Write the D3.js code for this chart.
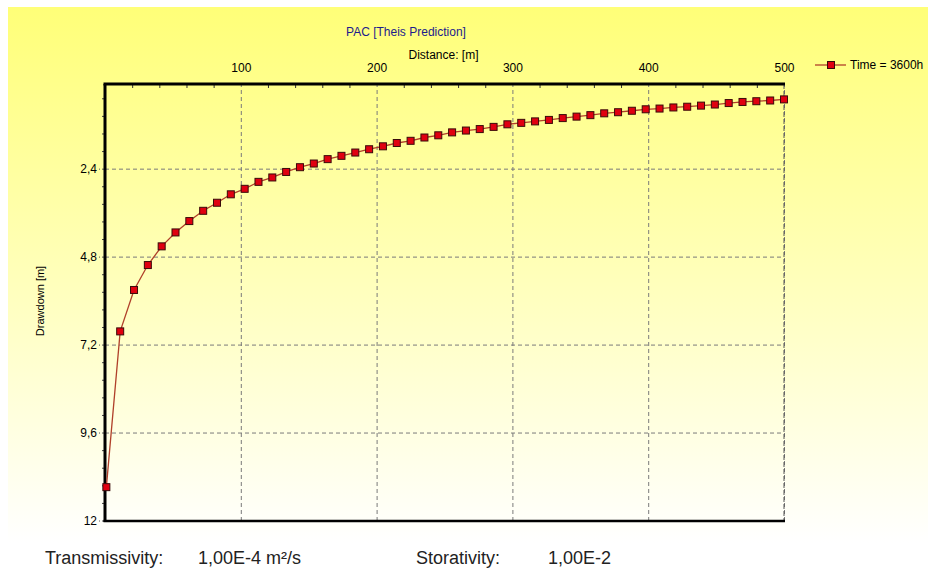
<!DOCTYPE html>
<html>
<head>
<meta charset="utf-8">
<script src="https://cdn.jsdelivr.net/npm/d3@7"></script>
<style>
  html, body { margin: 0; padding: 0; background: #ffffff; }
  svg { display: block; }
  text { font-family: "Liberation Sans", Arial, sans-serif; }
</style>
</head>
<body>
<svg id="chart" width="928" height="571"></svg>
<script>
// ---- data ----
const seriesName = "Time = 3600h";
const distances = [1, 11.18, 21.37, 31.55, 41.73, 51.92, 62.10, 72.29, 82.47, 92.65,
  102.84, 113.02, 123.20, 133.39, 143.57, 153.76, 163.94, 174.12, 184.31, 194.49,
  204.67, 214.86, 225.04, 235.22, 245.41, 255.59, 265.78, 275.96, 286.14, 296.33,
  306.51, 316.69, 326.88, 337.06, 347.24, 357.43, 367.61, 377.80, 387.98, 398.16,
  408.35, 418.53, 428.71, 438.90, 449.08, 459.27, 469.45, 479.63, 489.82, 500];
const drawdown = [11.09, 6.84, 5.71, 5.03, 4.52, 4.14, 3.83, 3.55, 3.33, 3.10,
  2.95, 2.76, 2.64, 2.49, 2.36, 2.26, 2.14, 2.05, 1.96, 1.87,
  1.79, 1.70, 1.64, 1.55, 1.49, 1.41, 1.36, 1.32, 1.26, 1.19,
  1.15, 1.11, 1.07, 1.02, 0.98, 0.94, 0.89, 0.86, 0.82, 0.78,
  0.76, 0.73, 0.71, 0.68, 0.65, 0.61, 0.58, 0.56, 0.54, 0.51];
const xTicks = [100, 200, 300, 400, 500];
const xMinorTicks = d3.range(20, 500, 20).filter(v => v % 100 !== 0);
const yTicks = [2.4, 4.8, 7.2, 9.6, 12];
const yMinorTicks = d3.range(0.48, 12, 0.48).filter(v => Math.abs(v / 2.4 - Math.round(v / 2.4)) > 0.01);
const titleText = "PAC [Theis Prediction]";
const xTitle = "Distance: [m]";
const yTitle = "Drawdown [m]";
const footer = [
  {label: "Transmissivity:", x: 45},
  {label: "1,00E-4 m²/s", x: 198},
  {label: "Storativity:", x: 416},
  {label: "1,00E-2", x: 548}
];

// ---- layout ----
const W = 928, H = 571;
const plot = {left: 105, right: 784, top: 84, bottom: 521};
const svg = d3.select("#chart");

const defs = svg.append("defs");
const bg = defs.append("linearGradient").attr("id", "bg").attr("x1", 0).attr("y1", 0).attr("x2", 0).attr("y2", 1);
bg.append("stop").attr("offset", "0%").attr("stop-color", "#ffff78");
bg.append("stop").attr("offset", "55%").attr("stop-color", "#ffffc4");
bg.append("stop").attr("offset", "95%").attr("stop-color", "#ffffff");

svg.append("rect").attr("x", 8).attr("y", 7).attr("width", W - 8).attr("height", H - 7).attr("fill", "url(#bg)");

const x = d3.scaleLinear().domain([0, 500]).range([plot.left, plot.right]);
const y = d3.scaleLinear().domain([0.09, 12]).range([plot.top, plot.bottom - 0.5]);
const fmtComma = d => String(d).replace(".", ",");

// gridlines
const gx = svg.append("g").attr("transform", `translate(0,${plot.bottom})`)
  .call(d3.axisBottom(x).tickValues(xTicks).tickSize(-(plot.bottom - plot.top)).tickFormat(""));
gx.select(".domain").remove();
gx.selectAll("line").attr("stroke", "#7a7a7a").attr("stroke-dasharray", "4,3");

const gy = svg.append("g").attr("transform", `translate(${plot.left},0)`)
  .call(d3.axisRight(y).tickValues(yTicks).tickSize(plot.right - plot.left).tickFormat(""));
gy.select(".domain").remove();
gy.selectAll("line").attr("stroke", "#7a7a7a").attr("stroke-dasharray", "4,3");

// top axis (labels)
const ax = svg.append("g").attr("transform", `translate(0,${plot.top})`)
  .call(d3.axisTop(x).tickValues(xTicks).tickSize(0).tickPadding(12));
ax.select(".domain").remove();
ax.selectAll("text").attr("font-size", 12).attr("fill", "#000").attr("font-family", "Liberation Sans, Arial, sans-serif");

// top minor ticks (inside)
const axm = svg.append("g").attr("transform", `translate(0,${plot.top})`)
  .call(d3.axisBottom(x).tickValues(xMinorTicks).tickSize(4).tickFormat(""));
axm.select(".domain").remove();
axm.selectAll("line").attr("stroke", "#333");

// left axis
const ay = svg.append("g").attr("transform", `translate(${plot.left},0)`)
  .call(d3.axisLeft(y).tickValues(yTicks).tickSize(6).tickPadding(2).tickFormat(fmtComma));
ay.select(".domain").remove();
ay.selectAll("line").attr("stroke", "#555").attr("stroke-dasharray", "3,2");
ay.selectAll("text").attr("font-size", 12).attr("fill", "#000").attr("font-family", "Liberation Sans, Arial, sans-serif");

const aym = svg.append("g").attr("transform", `translate(${plot.left},0)`)
  .call(d3.axisLeft(y).tickValues(yMinorTicks).tickSize(3).tickFormat(""));
aym.select(".domain").remove();
aym.selectAll("line").attr("stroke", "#444");

// frame
svg.append("line").attr("x1", plot.right).attr("x2", plot.right).attr("y1", plot.top).attr("y2", plot.bottom)
  .attr("stroke", "#555").attr("stroke-width", 1).attr("stroke-dasharray", "5,2");
svg.append("line").attr("x1", plot.left - 1.5).attr("x2", plot.right + 1).attr("y1", plot.top).attr("y2", plot.top)
  .attr("stroke", "#000").attr("stroke-width", 3);
svg.append("line").attr("x1", plot.left - 1.5).attr("x2", plot.right + 1).attr("y1", plot.bottom).attr("y2", plot.bottom)
  .attr("stroke", "#000").attr("stroke-width", 2.5);
svg.append("line").attr("x1", plot.left).attr("x2", plot.left).attr("y1", plot.top).attr("y2", plot.bottom + 1)
  .attr("stroke", "#000").attr("stroke-width", 3);

// series
const pts = distances.map((d, i) => ({d, s: drawdown[i]}));
const lineColor = "#b0402a";
svg.append("path").datum(pts)
  .attr("fill", "none").attr("stroke", lineColor).attr("stroke-width", 1.3)
  .attr("d", d3.line().x(p => x(p.d)).y(p => y(p.s)));
const ms = 7;
svg.append("g").selectAll("rect").data(pts).join("rect")
  .attr("x", p => x(p.d) - ms / 2).attr("y", p => y(p.s) - ms / 2)
  .attr("width", ms).attr("height", ms)
  .attr("fill", "#e00010").attr("stroke", "#3a0a0a").attr("stroke-width", 1);

// titles
svg.append("text").attr("x", 406).attr("y", 36).attr("text-anchor", "middle")
  .attr("font-size", 12).attr("fill", "#1c1c8c").text(titleText);
svg.append("text").attr("x", 443.5).attr("y", 59).attr("text-anchor", "middle")
  .attr("font-size", 12).attr("fill", "#000").text(xTitle);
svg.append("text").attr("transform", "translate(44,301) rotate(-90)").attr("text-anchor", "middle")
  .attr("font-size", 11).attr("fill", "#000").text(yTitle);

// legend
const lg = svg.append("g");
lg.append("line").attr("x1", 815).attr("x2", 846).attr("y1", 65).attr("y2", 65).attr("stroke", lineColor).attr("stroke-width", 1.3);
lg.append("rect").attr("x", 831 - ms / 2).attr("y", 65 - ms / 2).attr("width", ms).attr("height", ms)
  .attr("fill", "#e00010").attr("stroke", "#3a0a0a");
lg.append("text").attr("x", 850).attr("y", 69).attr("font-size", 12).attr("fill", "#000").text(seriesName);

// footer
svg.append("g").selectAll("text").data(footer).join("text")
  .attr("x", f => f.x).attr("y", 564).attr("font-size", 18).attr("fill", "#222").text(f => f.label);
</script>
</body>
</html>
